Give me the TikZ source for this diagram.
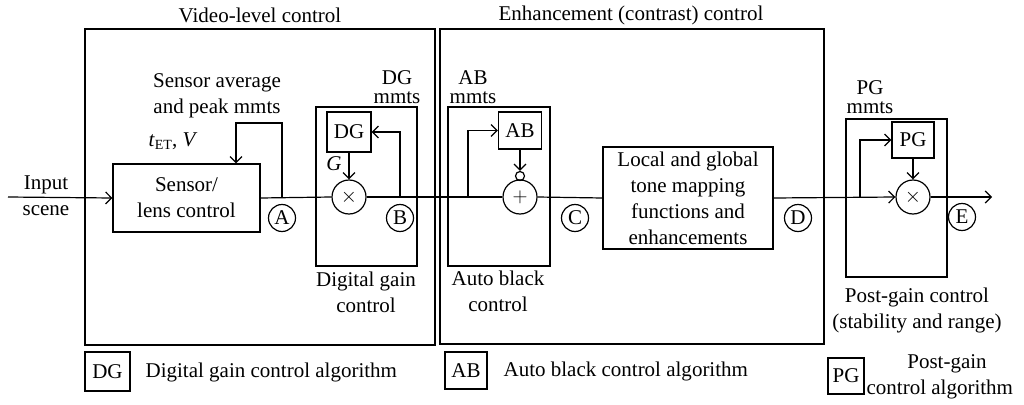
\documentclass[tikz,border=0pt]{standalone}
\usepackage{fontspec}
\setmainfont{Liberation Serif}
\usetikzlibrary{arrows.meta}
\begin{document}
\begin{tikzpicture}[x=1pt,y=-1pt,
  line width=1.2pt,
  >={Straight Barb[length=6pt,width=12pt]},
  every node/.style={font=\fontsize{21}{26}\selectfont, inner sep=0pt},
  txt/.style={align=center},
  tight/.style={align=center, font=\fontsize{21}{19}\selectfont},
  blk/.style={draw, rectangle, align=center},
  opcirc/.style={draw, circle, minimum size=34pt},
  tag/.style={draw, circle, minimum size=27pt},
  bubble/.style={draw, circle, minimum size=9pt}
]
\useasboundingbox (0,0) rectangle (1024,404);

% big frames
\draw (85,29) rectangle (435,345);
\draw (440,29) rectangle (824,344);
\draw (316,107) rectangle (417,266);
\draw (448,107) rectangle (550,266);
\draw (846,119) rectangle (947,277);

% titles
\node[txt] (t1) at (260,15) {Video-level control};
\node[txt] (t2) at (631,15) {Enhancement (contrast) control};

% blocks
\node[blk, minimum width=147pt, minimum height=68pt] (sensor) at (186.5,198) {Sensor/\\lens control};
\node[blk, minimum width=44pt, minimum height=40pt] (DG) at (349,132) {DG};
\node[opcirc] (mulDG) at (349,197) {$\times$};
\node[blk, minimum width=43pt, minimum height=37pt] (AB) at (520,130.5) {AB};
\node[opcirc] (plus) at (520,197) {$+$};
\node[bubble] (bub) at (520,176) {};
\node[blk, minimum width=170pt, minimum height=102pt] (tone) at (688,198) {Local and global\\tone mapping\\functions and\\enhancements};
\node[blk, minimum width=42pt, minimum height=36pt] (PG) at (913,140) {PG};
\node[opcirc] (mulPG) at (913,197) {$\times$};

% tags
\node[tag] (A) at (282,218) {A};
\node[tag] (B) at (400,218) {B};
\node[tag] (C) at (575,218) {C};
\node[tag] (D) at (798,218) {D};
\node[tag] (E) at (962,217) {E};

% coordinates
\coordinate (in) at (8,197);
\coordinate (jA) at (282,197);
\coordinate (fbA) at (236,123);
\coordinate (jB) at (400,197);
\coordinate (jAB) at (468,197);
\coordinate (jPG) at (860,197);
\coordinate (out) at (992,197);

% main signal path
\draw[->] (in) -- (sensor.west);
\draw (sensor.east) -- (mulDG.west);
\draw (mulDG.east) -- (plus.west);
\draw (plus.east) -- (tone.west);
\draw[->] (tone.east) -- (mulPG.west);
\draw[->] (mulPG.east) -- (out);

% feedback / control paths
\draw[->] (jA) |- (fbA) -- (fbA |- sensor.north);
\draw[->] (jB) |- (DG.east);
\draw[->] (DG.south) -- (mulDG.north);
\draw[->] (jAB) |- (AB.west);
\draw[->] (AB.south) -- (bub.north);
\draw[->] (jPG) |- (PG.west);
\draw[->] (PG.south) -- (mulPG.north);

% labels
\node[txt] (linput) at (46,196) {Input\\scene};
\node[txt] (lsens) at (217,96) {Sensor average\\and peak mmts};
\node[txt] (ltv) at (173,141) {\textit{t}\raisebox{-3pt}{\fontsize{14}{14}\selectfont ET}, \textit{V}};
\node[tight] (ldgm) at (397,87) {DG\\mmts};
\node[txt] (lG) at (334,164) {\textit{G}};
\node[txt] (ldgc) at (366,292) {Digital gain\\control};
\node[tight] (labm) at (473,87) {AB\\mmts};
\node[txt] (labc) at (498,291) {Auto black\\control};
\node[tight] (lpgm) at (870,97) {PG\\mmts};
\node[txt] (lpgc) at (917,310) {Post-gain control\\(stability and range)};

% legend
\node[blk, minimum width=45pt, minimum height=39pt] (legDG) at (107.5,371.5) {DG};
\node[anchor=west] (legDGt) at (145,372) {Digital gain control algorithm};
\node[blk, minimum width=42pt, minimum height=37pt] (legAB) at (466,370.5) {AB};
\node[anchor=west] (legABt) at (503,371) {Auto black control algorithm};
\node[blk, minimum width=36pt, minimum height=36pt] (legPG) at (846,376) {PG};
\node[txt] (legPGt1) at (947,364) {Post-gain};
\node[anchor=west] (legPGt2) at (866,389) {control algorithm};
\end{tikzpicture}
\end{document}
